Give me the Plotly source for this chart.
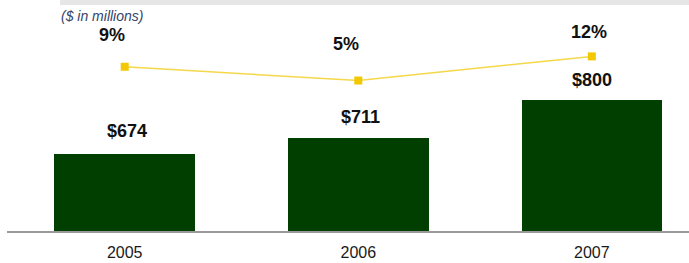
import plotly.graph_objects as go

years = ["2005", "2006", "2007"]
revenue = [674, 711, 800]
revenue_labels = ["$674", "$711", "$800"]
growth = [9, 5, 12]
growth_labels = ["9%", "5%", "12%"]

BAR_COLOR = "#013f00"
LINE_COLOR = "#f5d84a"
MARKER_COLOR = "#f2c800"
FONT = "Liberation Sans, Arial, sans-serif"

fig = go.Figure()
fig.add_trace(go.Bar(
    x=years, y=revenue, marker=dict(color=BAR_COLOR, line=dict(width=0)),
    width=0.602, hoverinfo="skip", showlegend=False,
))
fig.add_trace(go.Scatter(
    x=years, y=growth, yaxis="y2", mode="lines+markers",
    line=dict(color=LINE_COLOR, width=1.5),
    marker=dict(symbol="square", size=8, color=MARKER_COLOR),
    hoverinfo="skip", showlegend=False,
))

annotations = []
bar_xshift = [2, 2, 0]
bar_yshift = [23, 21, 20]
for i, (v, t) in enumerate(zip(revenue, revenue_labels)):
    annotations.append(dict(
        x=i, y=v, xref="x", yref="y", text=t, showarrow=False,
        xanchor="center", yanchor="middle", xshift=bar_xshift[i], yshift=bar_yshift[i],
        font=dict(family=FONT, size=18, color="#111111", weight="bold"),
    ))
line_xshift = [-13, -12, -3]
line_yshift = [32, 37, 24]
for i, (v, t) in enumerate(zip(growth, growth_labels)):
    annotations.append(dict(
        x=i, y=v, xref="x", yref="y2", text=t, showarrow=False,
        xanchor="center", yanchor="middle", xshift=line_xshift[i], yshift=line_yshift[i],
        font=dict(family=FONT, size=18, color="#111111", weight="bold"),
    ))
annotations.append(dict(
    x=0.140, y=0.9286, xref="paper", yref="paper", text="<i>($ in millions)</i>",
    showarrow=False, xanchor="center", yanchor="middle",
    font=dict(family=FONT, size=14, color="#34446a"),
))

fig.update_layout(
    width=689, height=263,
    margin=dict(l=7, r=0, t=0, b=32),
    paper_bgcolor="white", plot_bgcolor="white",
    xaxis=dict(
        type="category", range=[-0.504, 2.416], showgrid=False, zeroline=False,
        showline=True, linecolor="#9a9a9a", linewidth=2,
        ticks="outside", ticklen=6, tickcolor="rgba(0,0,0,0)",
        tickfont=dict(family=FONT, size=16, color="#1a1a1a"),
        fixedrange=True,
    ),
    yaxis=dict(range=[494.3, 1033.3], visible=False, showgrid=False, zeroline=False,
               fixedrange=True),
    yaxis2=dict(range=[-38.66, 28.37], overlaying="y", visible=False,
                showgrid=False, zeroline=False, fixedrange=True),
    annotations=annotations,
    shapes=[dict(type="rect", xref="paper", yref="paper", x0=0.0777, x1=1.0,
                 y0=0.978, y1=1.0, fillcolor="#e6e6e6", line=dict(width=0), layer="below")],
    bargap=0,
)

fig.write_html("out.html", config={"displayModeBar": False},
               post_script="document.body.style.margin='0';")
